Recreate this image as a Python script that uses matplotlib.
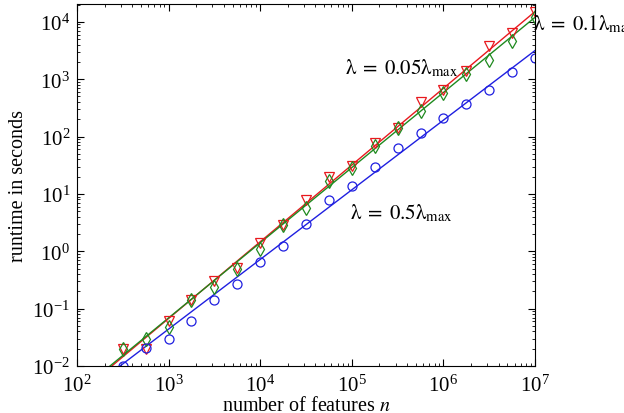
import numpy as np
import matplotlib
matplotlib.use("Agg")
import matplotlib.pyplot as plt

plt.rcParams['font.family'] = 'serif'
plt.rcParams['font.serif'] = ['Liberation Serif', 'DejaVu Serif']
plt.rcParams['mathtext.fontset'] = 'stix'

# number of features
n = [316, 562, 1000, 1778, 3162, 5623, 1e4, 17783, 31623, 56234,
     1e5, 177828, 316228, 562341, 1e6, 1778279, 3162278, 5623413, 1e7]

# runtime (s) for each lambda
t_005 = [0.0195, 0.020, 0.061, 0.14, 0.30, 0.52, 1.38, 2.9, 7.8, 20,
         31, 76, 141, 400, 660, 1380, 3800, 6500, 15000]
t_01 = [0.020, 0.030, 0.048, 0.14, 0.24, 0.50, 1.10, 2.9, 5.8, 17,
        28, 69, 141, 276, 570, 1210, 2150, 4650, 12000]
t_05 = [0.010, 0.021, 0.030, 0.061, 0.14, 0.27, 0.65, 1.26, 3.0, 7.8,
        14, 29, 63, 115, 215, 375, 660, 1320, 2370]

# fitted power laws (end points in log-log)
fit_n_005 = [240, 1e7]
fit_t_005 = [0.01, 15100]
fit_n_01 = [229, 1e7]
fit_t_01 = [0.01, 12000]
fit_n_05 = [295, 1e7]
fit_t_05 = [0.01, 3160]

red = '#e8191e'
green = '#1f8a1f'
blue = '#1f1fe0'

fig = plt.figure(figsize=(6.24, 4.14), dpi=100)
ax = fig.add_axes([0.1234, 0.1135, 0.7340, 0.8745])

ax.plot(fit_n_005, fit_t_005, color=red, lw=1.0)
ax.plot(fit_n_01, fit_t_01, color=green, lw=1.0)
ax.plot(fit_n_05, fit_t_05, color=blue, lw=1.0)

ax.plot(n, t_005, 'v', ms=7, mfc='none', mec=red, mew=0.9)
ax.plot(n, t_01, 'd', ms=7, mfc='none', mec=green, mew=0.9)
ax.plot(n, t_05, 'o', ms=6.5, mfc='none', mec=blue, mew=0.9)

ax.set_xscale('log')
ax.set_yscale('log')
ax.set_xlim(1e2, 1e7)
ax.set_ylim(1e-2, 2.05e4)

ax.tick_params(which='both', direction='in', top=True, right=True,
               labelsize=15)
ax.tick_params(which='major', length=5)
ax.tick_params(which='minor', length=2.5)
ax.tick_params(axis='x', pad=6)
ax.tick_params(axis='y', pad=5)

ax.set_xlabel('number of features $n$', fontsize=14.5, labelpad=0)
ax.set_ylabel('runtime in seconds', fontsize=14.5, labelpad=3)

lab = r'$\mathrm{\lambda}\;=\;%s\mathrm{\lambda}_{\mathrm{max}}$'
ax.text(0.585, 0.826, lab % '0.05', transform=ax.transAxes,
        fontsize=15, ha='left', va='center')
ax.text(0.995, 0.945, lab % '0.1', transform=ax.transAxes,
        fontsize=15, ha='left', va='center', clip_on=False)
ax.text(0.596, 0.425, lab % '0.5', transform=ax.transAxes,
        fontsize=15, ha='left', va='center')

fig.savefig('out.png', dpi=100)
